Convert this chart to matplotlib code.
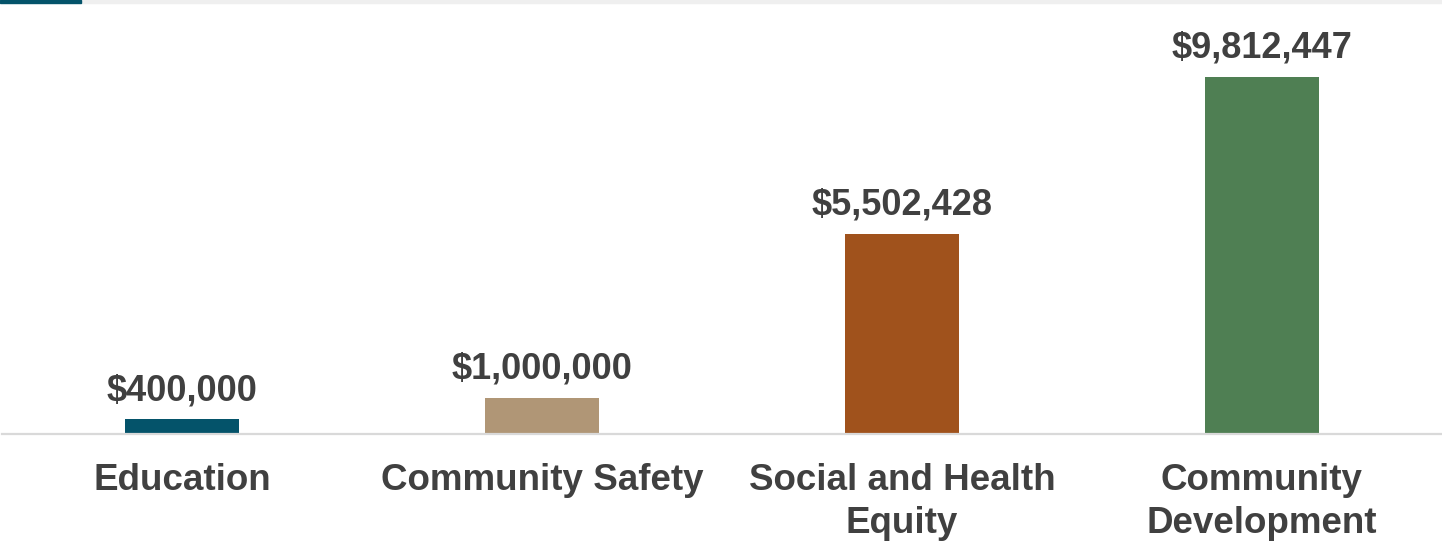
import numpy as np
import matplotlib.pyplot as plt
from matplotlib.patches import Rectangle

plt.rcParams['font.family'] = ['Liberation Sans', 'DejaVu Sans']

categories = ['Education', 'Community Safety', 'Social and Health\nEquity', 'Community\nDevelopment']
amounts = [400000, 1000000, 5502428, 9812447]
labels = ['$400,000', '$1,000,000', '$5,502,428', '$9,812,447']
colors = ['#04536A', '#B09676', '#A0521C', '#4F7F53']
text_color = '#404040'

W, H = 1442, 544
fig = plt.figure(figsize=(W / 100, H / 100), dpi=100)

# top accent strip
fig.patches.append(Rectangle((81 / W, 1 - 3 / H), 1 - 81 / W, 3 / H,
                             transform=fig.transFigure, color='#EFEFEF', zorder=0))
fig.patches.append(Rectangle((0, 1 - 3 / H), 81 / W, 3 / H,
                             transform=fig.transFigure, color='#04536A', zorder=1))

# axes: baseline at y=434 px, 36.35 px per million
base_px = 434
top_px = 10
ax = fig.add_axes([2 / W, (H - base_px) / H, 1 - 2 / W, (base_px - top_px) / H])
ymax = (base_px - top_px) / 36.35 * 1e6

x = np.arange(len(categories))
ax.bar(x, amounts, width=0.314, color=colors, zorder=2)
ax.set_xlim(-0.5, len(categories) - 0.5)
ax.set_ylim(0, ymax)

for xi, v, lab in zip(x, amounts, labels):
    ax.annotate(lab, (xi, v), xytext=(0, 14), textcoords='offset points',
                ha='center', va='baseline', fontsize=26, fontweight='bold',
                color=text_color)

ax.set_xticks(x)
ax.set_xticklabels(categories, fontsize=26.5, fontweight='bold', color=text_color,
                   linespacing=1.3)
ax.tick_params(axis='x', length=0, pad=21)
ax.set_yticks([])
for s in ['top', 'right', 'left']:
    ax.spines[s].set_visible(False)
ax.spines['bottom'].set_color('#D9D9D9')
ax.spines['bottom'].set_linewidth(1.6)
ax.patch.set_alpha(0)

fig.savefig('out.png', dpi=100)
